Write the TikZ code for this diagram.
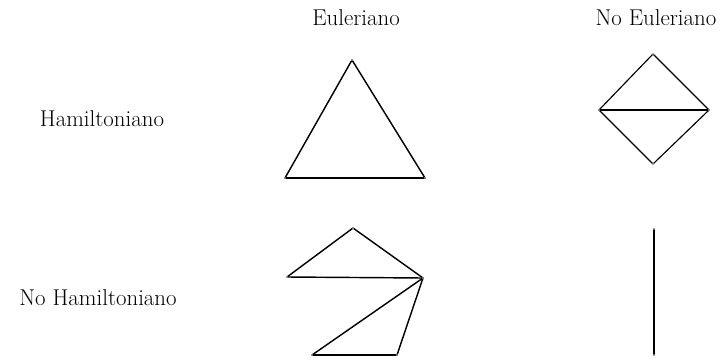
\documentclass[tikz,border=0pt]{standalone}
\usepackage{tkz-euclide}
\begin{document}
\begin{tikzpicture}[x=0.7pt,y=0.7pt,every node/.style={font=\fontsize{16}{19}\selectfont}]
\useasboundingbox (0,0) rectangle (725,360);
\node (EU) at (356,342) {Euleriano};
\node (NE) at (656,342) {No Euleriano};
\node (HA) at (102,241) {Hamiltoniano};
\node (NH) at (98,62) {No Hamiltoniano};
% euleriano y hamiltoniano
\tkzDefPoint(352,300){A}
\tkzDefPoint(285,182){B}
\tkzDefPoint(425,182){C}
\tkzDrawSegments[line width=1pt](A,B A,C B,C)
% no euleriano, hamiltoniano
\tkzDefPoint(653,306){D}
\tkzDefPoint(599,250){E}
\tkzDefPoint(709,250){F}
\tkzDefPoint(653,196){G}
\tkzDrawSegments[line width=0.8pt](D,E D,F E,F E,G F,G)
% euleriano, no hamiltoniano
\tkzDefPoint(353,132){H}
\tkzDefPoint(287,83){I}
\tkzDefPoint(423,82){J}
\tkzDefPoint(312,5){K}
\tkzDefPoint(397,5){L}
\tkzDrawSegments[line width=1pt](H,I H,J I,J J,K J,L K,L)
% ni euleriano ni hamiltoniano
\tkzDefPoint(654,131){M}
\tkzDefPoint(654,5){N}
\tkzDrawSegments[line width=1.2pt](M,N)
\tkzDrawPoints[size=0.8,color=gray!60,fill=gray!60](A,B,C,D,E,F,G,H,I,J,K,L,M,N)
\end{tikzpicture}
\end{document}
